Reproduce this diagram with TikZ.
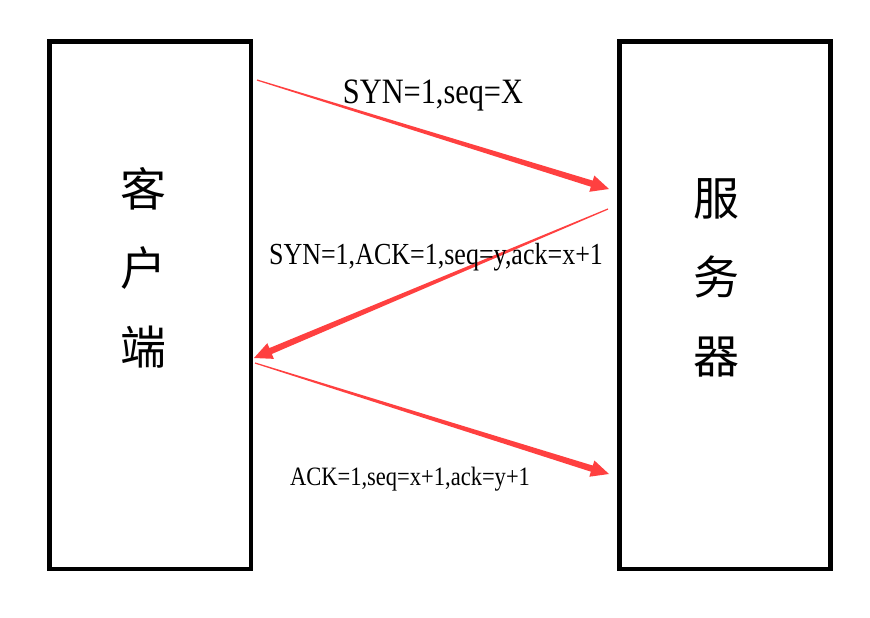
\documentclass[tikz,border=0pt]{standalone}
\usepackage{fontspec}
\usetikzlibrary{calc}
\newfontfamily\cjk{Noto Sans CJK SC}
\newfontfamily\msgfont[FakeStretch=0.85]{Liberation Serif}
\definecolor{arrowred}{HTML}{FF4040}

% tapered arrow: thin at the tail, thick at the head
\newcommand\taperarrow[2]{%
  \coordinate (hb) at ($(#2)!18pt!(#1)$);
  \fill[arrowred] ($(#1)!0.6pt!90:(#2)$) -- ($(hb)!3.2pt!90:(#2)$) -- ($(hb)!8.5pt!90:(#2)$) -- (#2)
    -- ($(hb)!8.5pt!-90:(#2)$) -- ($(hb)!3.2pt!-90:(#2)$) -- ($(#1)!0.6pt!-90:(#2)$) -- cycle;}

\begin{document}
\begin{tikzpicture}[x=1pt,y=-1pt,
  box/.style={draw,line width=4.5pt,inner sep=0pt,minimum height=527.5pt},
  sidename/.style={font=\cjk\fontsize{46}{79}\selectfont,align=center},
  msg/.style={anchor=base,inner sep=0pt}]
\useasboundingbox (0,0) rectangle (870,618);
\node[box,minimum width=201.5pt] (client) at (150.25,305.25) {};
\node[box,minimum width=211pt] (server) at (725,305.25) {};
\node[sidename] (clientname) at (143.5,268) {客\\户\\端};
\node[sidename] (servername) at (716,278) {服\\务\\器};

\coordinate (c1) at (257,80);  \coordinate (s1) at (609,189);
\coordinate (s2) at (608,209); \coordinate (c2) at (254,358);
\coordinate (c3) at (255,363); \coordinate (s3) at (609,474);
\taperarrow{c1}{s1}
\taperarrow{s2}{c2}
\taperarrow{c3}{s3}

\node[msg,font=\msgfont\fontsize{35.7}{40}\selectfont] (syn) at (433,103) {SYN=1,seq=X};
\node[msg,font=\msgfont\fontsize{30.6}{34}\selectfont] (synack) at (436,264) {SYN=1,ACK=1,seq=y,ack=x+1};
\node[msg,font=\msgfont\fontsize{26.5}{30}\selectfont] (ack) at (410,485) {ACK=1,seq=x+1,ack=y+1};
\end{tikzpicture}
\end{document}
